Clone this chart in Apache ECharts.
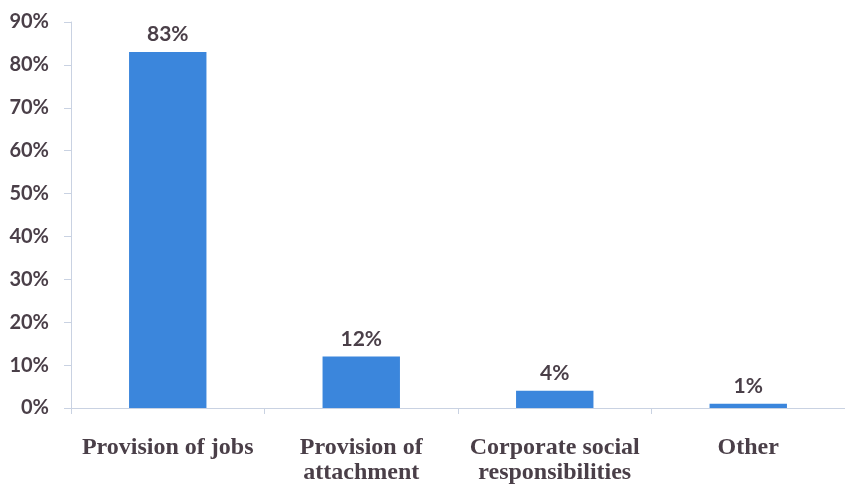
<!DOCTYPE html>
<html>
<head>
<meta charset="utf-8">
<script src="https://cdn.jsdelivr.net/npm/echarts@6/dist/echarts.min.js"></script>
<style>
  html, body { margin: 0; padding: 0; background: #ffffff; }
  #chart { width: 845px; height: 488px; }
</style>
</head>
<body>
<div id="chart"></div>
<script>
// Reasons given, share of respondents (%)
const categories = ['Provision of jobs', 'Provision of\nattachment', 'Corporate social\nresponsibilities', 'Other'];
const shares = [83, 12, 4, 1];
const yTicks = [0, 10, 20, 30, 40, 50, 60, 70, 80, 90];

const textColor = '#4a3f48';
const chart = echarts.init(document.getElementById('chart'));

chart.setOption({
  animation: false,
  grid: { left: 71, top: 22, bottom: 80, width: 780, containLabel: false },
  xAxis: {
    type: 'category',
    data: categories,
    axisLine: { lineStyle: { color: '#c9d2e2', width: 1 } },
    axisTick: { show: true, length: 6, lineStyle: { color: '#c9d2e2' } },
    axisLabel: {
      interval: 0,
      margin: 27,
      color: textColor,
      fontFamily: '"Liberation Serif", "DejaVu Serif", serif',
      fontWeight: 'bold',
      fontSize: 24,
      lineHeight: 25
    }
  },
  yAxis: {
    type: 'value',
    min: yTicks[0],
    max: yTicks[yTicks.length - 1],
    interval: 10,
    axisLine: { show: true, lineStyle: { color: '#c9d2e2', width: 1 } },
    axisTick: { show: true, length: 7, lineStyle: { color: '#c9d2e2' } },
    splitLine: { show: false },
    axisLabel: {
      margin: 22,
      color: textColor,
      fontFamily: 'Lato, "Open Sans", sans-serif',
      fontWeight: 'bold',
      fontSize: 20,
      formatter: v => v + '%'
    }
  },
  series: [{
    type: 'bar',
    data: shares,
    barWidth: '40%',
    itemStyle: { color: '#3b86dc' },
    label: {
      show: true,
      position: 'top',
      distance: 7,
      color: textColor,
      fontFamily: 'Lato, "Open Sans", sans-serif',
      fontWeight: 'bold',
      fontSize: 21,
      formatter: p => p.value + '%'
    }
  }]
});
</script>
</body>
</html>
